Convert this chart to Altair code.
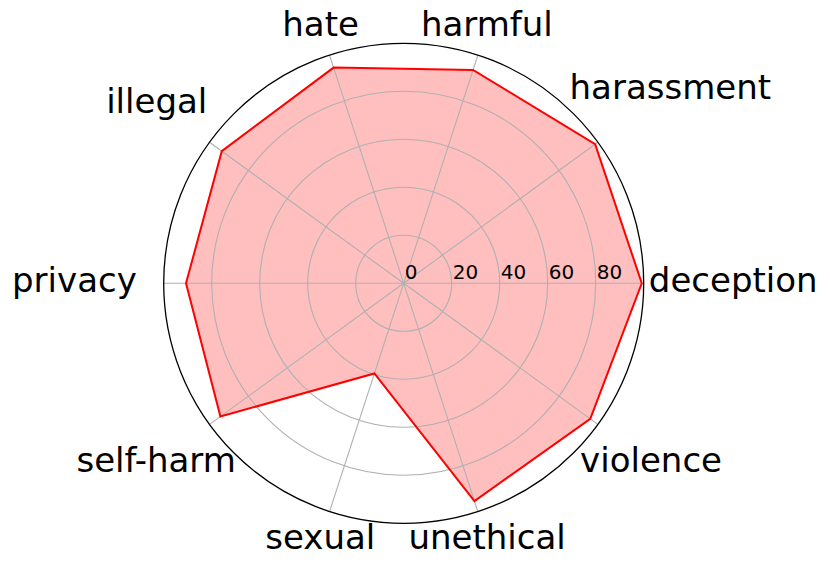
import math
import altair as alt
import pandas as pd

# ---- data ----
categories = ["deception", "harassment", "harmful", "hate", "illegal",
              "privacy", "self-harm", "sexual", "unethical", "violence"]
scores = [99.2, 98.6, 93.5, 94.5, 93.7, 90.7, 94.4, 39.5, 95.4, 96.1]
r_ticks = [0, 20, 40, 60, 80]
r_max = 100

# ---- layout ----
W, H = 814, 551
CX, CY = 395.7, 275.3          # centre of the polar plot, in plot pixels
PX = 2.4                        # pixels per radial unit
label_r = [137.3, 137.3, 112.1, 112.1, 127.2, 137.2, 127.5, 112.5, 112.4, 127.4]
FONT = "DejaVu Sans"
GRID = "#b0b0b0"

n = len(categories)
df = pd.DataFrame({"category": categories, "score": scores,
                   "idx": list(range(n)), "label_r": label_r})
ticks_df = pd.DataFrame({"tick": r_ticks})
rings_df = pd.DataFrame({"tick": [t for t in r_ticks if t > 0]})
outer_df = pd.DataFrame({"tick": [r_max]})

x_scale = alt.Scale(domain=[-CX / PX, (W - CX) / PX], nice=False, zero=False)
y_scale = alt.Scale(domain=[-(H - CY) / PX, CY / PX], nice=False, zero=False)
r_scale = alt.Scale(type="linear", domain=[0, r_max], range=[0, r_max * PX],
                    zero=True, nice=False)

base = alt.Chart(df).transform_calculate(
    ang=f"datum.idx * 2 * PI / {n}",
).transform_calculate(
    px="datum.score * cos(datum.ang)",
    py="datum.score * sin(datum.ang)",
    x0="0", y0="0",
    x1=f"{r_max} * cos(datum.ang)",
    y1=f"{r_max} * sin(datum.ang)",
    lx="datum.label_r * cos(datum.ang)",
    ly="datum.label_r * sin(datum.ang)",
)

X = lambda f: alt.X(f, type="quantitative", scale=x_scale, axis=None)
Y = lambda f: alt.Y(f, type="quantitative", scale=y_scale, axis=None)

fill = base.mark_line(interpolate="linear-closed", fill="#ff0000",
                      fillOpacity=0.25, strokeOpacity=0, strokeWidth=0).encode(
    x=X("px"), y=Y("py"), order=alt.Order("idx:Q"))

spokes = base.mark_rule(color=GRID, strokeWidth=1.1).encode(
    x=X("x0"), y=Y("y0"), x2="x1:Q", y2="y1:Q")

rings = alt.Chart(rings_df).mark_arc(theta=0, theta2=2 * math.pi, filled=False,
                                      stroke=GRID, strokeWidth=1.1).encode(
    x=alt.value(CX), y=alt.value(CY),
    radius=alt.Radius("tick:Q", scale=r_scale, stack=None))

outer = alt.Chart(outer_df).mark_arc(theta=0, theta2=2 * math.pi, filled=False,
                                      stroke="black", strokeWidth=1.3).encode(
    x=alt.value(CX), y=alt.value(CY),
    radius=alt.Radius("tick:Q", scale=r_scale, stack=None))

outline = base.mark_line(interpolate="linear-closed", color="#ff0000",
                         strokeWidth=2).encode(
    x=X("px"), y=Y("py"), order=alt.Order("idx:Q"))

tick_labels = alt.Chart(ticks_df).transform_calculate(zero="0").mark_text(
    font=FONT, fontSize=20, align="left", baseline="alphabetic",
    dx=1, dy=-4, color="black").encode(
    x=X("tick"), y=Y("zero"), text=alt.Text("tick:Q", format="d"))

cat_labels = base.mark_text(font=FONT, fontSize=34, align="center",
                            baseline="alphabetic", dy=9, color="black").encode(
    x=X("lx"), y=Y("ly"), text="category:N")

chart = alt.layer(fill, spokes, rings, outer, outline, tick_labels, cat_labels).properties(
    width=W, height=H, padding=0, autosize="none",
).configure_view(stroke=None)

chart.save("out.html", embed_options={"renderer": "svg", "actions": False})
